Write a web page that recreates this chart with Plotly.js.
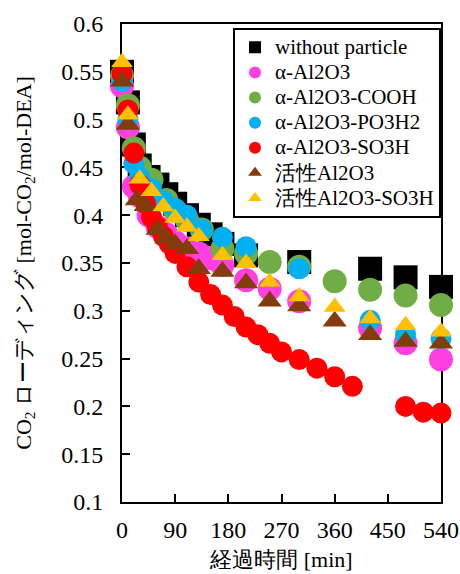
<!DOCTYPE html>
<html>
<head>
<meta charset="utf-8">
<script src="https://cdn.plot.ly/plotly-3.0.1.min.js"></script>
<style>html,body{margin:0;padding:0;background:#fff;}#chart{width:460px;height:574px;}</style>
</head>
<body>
<div id="chart"></div>
<script>
// ---- data (minutes, mol-CO2/mol-DEA) ----
const seriesNames = ['without particle', 'α-Al2O3', 'α-Al2O3-COOH', 'α-Al2O3-PO3H2', 'α-Al2O3-SO3H', '活性Al2O3', '活性Al2O3-SO3H'];

const tBlack = [0, 10, 20, 30, 45, 60, 75, 90, 110, 130, 150, 170, 210, 300, 420, 480, 540];
const yBlack = [0.55, 0.518, 0.474, 0.452, 0.44, 0.432, 0.422, 0.412, 0.40, 0.39, 0.38, 0.37, 0.358, 0.351, 0.344, 0.335, 0.325];

const tPink = [0, 10, 20, 30, 45, 60, 75, 90, 110, 130, 150, 170, 210, 250, 300, 420, 480, 540];
const yPink = [0.535, 0.492, 0.43, 0.42, 0.40, 0.388, 0.38, 0.372, 0.365, 0.36, 0.355, 0.348, 0.332, 0.323, 0.31, 0.282, 0.266, 0.249];

const tGreen = [0, 10, 20, 30, 50, 75, 90, 110, 135, 170, 210, 250, 300, 360, 420, 480, 540];
const yGreen = [0.546, 0.515, 0.47, 0.45, 0.437, 0.416, 0.405, 0.395, 0.385, 0.365, 0.36, 0.351, 0.346, 0.331, 0.322, 0.316, 0.306];

const tCyan = [0, 10, 20, 30, 50, 70, 90, 110, 135, 170, 210, 300, 420, 480, 540];
const yCyan = [0.54, 0.50, 0.454, 0.44, 0.428, 0.415, 0.407, 0.40, 0.385, 0.377, 0.367, 0.344, 0.29, 0.275, 0.271];

const tRed = [0, 10, 20, 30, 40, 50, 60, 70, 80, 90, 110, 130, 150, 170, 190, 210, 230, 250, 270, 300, 330, 360, 390, 480, 510, 540];
const yRed = [0.548, 0.51, 0.465, 0.432, 0.412, 0.398, 0.388, 0.378, 0.37, 0.36, 0.346, 0.33, 0.317, 0.306, 0.294, 0.283, 0.275, 0.266, 0.257, 0.249, 0.24, 0.231, 0.221, 0.2, 0.194, 0.193];

const tBrown = [0, 10, 25, 40, 60, 75, 90, 110, 130, 170, 210, 250, 300, 360, 420, 480, 540];
const yBrown = [0.54, 0.495, 0.416, 0.41, 0.385, 0.376, 0.37, 0.365, 0.344, 0.341, 0.329, 0.31, 0.305, 0.289, 0.275, 0.268, 0.266];

const tYellow = [0, 10, 30, 50, 70, 90, 110, 130, 170, 210, 250, 300, 360, 420, 480, 540];
const yYellow = [0.56, 0.505, 0.438, 0.425, 0.409, 0.397, 0.388, 0.378, 0.358, 0.35, 0.33, 0.315, 0.304, 0.292, 0.285, 0.278];

const xTickVals = [0, 90, 180, 270, 360, 450, 540];
const xTickText = ['0', '90', '180', '270', '360', '450', '540'];
const yTickVals = [0.1, 0.15, 0.2, 0.25, 0.3, 0.35, 0.4, 0.45, 0.5, 0.55, 0.6];
const yTickText = ['0.1', '0.15', '0.2', '0.25', '0.3', '0.35', '0.4', '0.45', '0.5', '0.55', '0.6'];

// ---- styles ----
const xs = [tBlack, tPink, tGreen, tCyan, tRed, tBrown, tYellow];
const ys = [yBlack, yPink, yGreen, yCyan, yRed, yBrown, yYellow];
const colors = ['#000000', '#ff3fe0', '#70ad47', '#00b0f0', '#ff0000', '#843c0c', '#ffc000'];
const symbols = ['square', 'circle', 'circle', 'circle', 'circle', 'triangle-up', 'triangle-up'];
const sizes = [24, 24, 24, 21, 21, 21, 19];

const SERIF = 'Liberation Serif';

const traces = seriesNames.map((nm, i) => ({
  type: 'scatter',
  mode: 'markers',
  name: '<span style="font-family:Liberation Serif;font-size:21px">' + nm + '</span>',
  x: xs[i],
  y: ys[i],
  cliponaxis: false,
  marker: {color: colors[i], symbol: symbols[i], size: sizes[i], line: {width: 0}}
}));

const layout = {
  width: 460,
  height: 574,
  margin: {l: 122, r: 19, t: 24, b: 72, pad: 0},
  paper_bgcolor: '#ffffff',
  plot_bgcolor: '#ffffff',
  font: {family: SERIF, color: '#000000', size: 24},
  showlegend: true,
  legend: {
    x: 0.348, y: 0.992, xanchor: 'left', yanchor: 'top',
    bgcolor: '#ffffff', bordercolor: '#000000', borderwidth: 2,
    font: {family: SERIF, size: 17, color: '#000000'},
    itemsizing: 'constant',
    tracegroupgap: 0
  },
  xaxis: {
    range: [0, 540],
    tickvals: xTickVals, ticktext: xTickText,
    ticks: 'inside', ticklen: 8, tickwidth: 2, tickcolor: '#000',
    showline: true, linecolor: '#000', linewidth: 2, mirror: true,
    showgrid: false, zeroline: false,
    layer: 'below traces',
    tickfont: {family: SERIF, size: 24},
    ticklabelstandoff: 5,
    title: {text: '経過時間 [min]', font: {family: SERIF, size: 22}, standoff: 10},
    automargin: false
  },
  yaxis: {
    range: [0.1, 0.6],
    tickvals: yTickVals, ticktext: yTickText,
    ticks: 'inside', ticklen: 8, tickwidth: 2, tickcolor: '#000',
    showline: true, linecolor: '#000', linewidth: 2, mirror: true,
    showgrid: false, zeroline: false,
    layer: 'below traces',
    tickfont: {family: SERIF, size: 24},
    ticklabelstandoff: 12,
    title: {text: 'CO<sub>2</sub> ローディング [mol-CO<sub>2</sub>/mol-DEA]', font: {family: SERIF, size: 22}, standoff: 24},
    automargin: false
  }
};

Plotly.newPlot('chart', traces, layout, {staticPlot: true, displayModeBar: false});
</script>
</body>
</html>
